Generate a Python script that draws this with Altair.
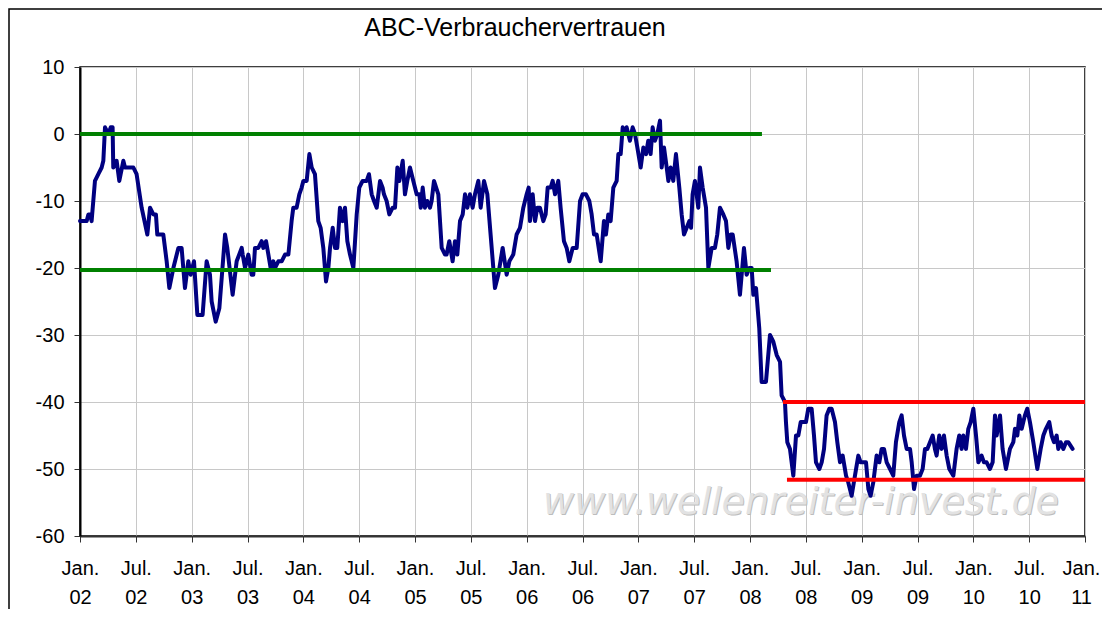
import altair as alt
import pandas as pd

title_text = "ABC-Verbrauchervertrauen"
watermark_text = "www.wellenreiter-invest.de"

# decimal year of each vertex of the weekly series
years = [
    2002.000, 2002.060, 2002.075, 2002.090, 2002.104, 2002.134, 2002.164, 2002.194, 2002.209, 2002.224,
    2002.254, 2002.275, 2002.292, 2002.298, 2002.328, 2002.352, 2002.388, 2002.403, 2002.478, 2002.507,
    2002.552, 2002.603, 2002.627, 2002.657, 2002.680, 2002.692, 2002.746, 2002.776, 2002.800, 2002.836,
    2002.881, 2002.910, 2002.940, 2002.970, 2002.991, 2003.021, 2003.051, 2003.098, 2003.134, 2003.164,
    2003.179, 2003.215, 2003.248, 2003.299, 2003.319, 2003.367, 2003.403, 2003.448,
    2003.457, 2003.478, 2003.507, 2003.537, 2003.552, 2003.567, 2003.597, 2003.627, 2003.642, 2003.666,
    2003.687, 2003.707, 2003.731, 2003.746, 2003.776, 2003.806, 2003.836, 2003.866, 2003.895, 2003.910,
    2003.940, 2003.964, 2003.985, 2004.000, 2004.030, 2004.054, 2004.075, 2004.104, 2004.134, 2004.155,
    2004.179, 2004.203, 2004.224, 2004.239, 2004.263, 2004.284, 2004.304, 2004.328, 2004.352, 2004.373,
    2004.394, 2004.418, 2004.448, 2004.478, 2004.501, 2004.531, 2004.567, 2004.588, 2004.612, 2004.633,
    2004.657, 2004.687, 2004.710, 2004.722, 2004.746, 2004.770, 2004.800, 2004.821, 2004.842, 2004.860,
    2004.890, 2004.910, 2004.931, 2004.955,
    2004.985, 2005.015, 2005.039, 2005.051, 2005.069, 2005.089, 2005.110, 2005.134, 2005.149, 2005.170,
    2005.209, 2005.239, 2005.269, 2005.283, 2005.307, 2005.337, 2005.358, 2005.379, 2005.403, 2005.427,
    2005.448, 2005.469, 2005.492, 2005.516, 2005.537, 2005.567, 2005.588, 2005.618, 2005.648, 2005.677,
    2005.716, 2005.746, 2005.785, 2005.821, 2005.845, 2005.880, 2005.910, 2005.940, 2005.970, 2006.000,
    2006.018, 2006.030, 2006.054, 2006.075, 2006.095, 2006.119, 2006.149, 2006.170, 2006.188, 2006.215,
    2006.233, 2006.254, 2006.283, 2006.304, 2006.334, 2006.358, 2006.382, 2006.412, 2006.448, 2006.478,
    2006.501, 2006.531,
    2006.561, 2006.582, 2006.603, 2006.627, 2006.663, 2006.692, 2006.710, 2006.731, 2006.752, 2006.776,
    2006.806, 2006.821, 2006.842, 2006.860, 2006.880, 2006.895, 2006.925, 2006.949, 2006.970, 2006.991,
    2007.021, 2007.045, 2007.069, 2007.089, 2007.110, 2007.128, 2007.149, 2007.170, 2007.194, 2007.209,
    2007.230, 2007.254, 2007.269, 2007.289, 2007.313, 2007.337, 2007.367, 2007.388, 2007.409, 2007.433,
    2007.457, 2007.472, 2007.486, 2007.507, 2007.537, 2007.552, 2007.576, 2007.606, 2007.627, 2007.657,
    2007.686, 2007.707, 2007.731, 2007.761, 2007.785, 2007.806, 2007.827, 2007.845, 2007.880, 2007.910,
    2007.946, 2007.970, 2007.994, 2008.015,
    2008.030, 2008.054, 2008.083, 2008.104, 2008.143, 2008.179, 2008.209, 2008.239, 2008.269, 2008.283,
    2008.313,
    2008.322, 2008.334, 2008.358, 2008.388, 2008.412, 2008.433, 2008.454, 2008.478, 2008.501, 2008.522,
    2008.552, 2008.573, 2008.591, 2008.621, 2008.642, 2008.663, 2008.686, 2008.710, 2008.731, 2008.761,
    2008.782, 2008.806, 2008.830, 2008.860, 2008.880, 2008.910, 2008.940, 2008.970, 2008.991, 2009.039,
    2009.060, 2009.080, 2009.104, 2009.134, 2009.158, 2009.179, 2009.200, 2009.224, 2009.254, 2009.283,
    2009.307, 2009.337, 2009.358, 2009.379, 2009.403, 2009.433, 2009.448, 2009.469, 2009.492, 2009.522,
    2009.546, 2009.567, 2009.588, 2009.612,
    2009.636, 2009.656, 2009.671, 2009.695, 2009.716, 2009.737, 2009.761, 2009.785, 2009.821, 2009.850,
    2009.874, 2009.895, 2009.910, 2009.934, 2009.955, 2009.976, 2010.000, 2010.024, 2010.045, 2010.074,
    2010.095, 2010.119, 2010.149, 2010.173, 2010.194, 2010.209, 2010.239, 2010.262, 2010.292, 2010.328,
    2010.358, 2010.373, 2010.394, 2010.412, 2010.433, 2010.462, 2010.483, 2010.507, 2010.537, 2010.573,
    2010.603, 2010.627, 2010.650, 2010.680, 2010.701, 2010.722, 2010.746, 2010.761, 2010.782, 2010.806,
    2010.830, 2010.850, 2010.889,
]

values = [
    -13, -13, -12, -12, -13, -7, -6, -5, -4, 1,
    0, 1, 1, -5, -4, -7, -4, -5, -5, -6,
    -11, -15, -11, -12, -12, -15, -15, -19, -23, -20,
    -17, -17, -23, -19, -21, -19, -27, -27, -19, -21,
    -25, -28, -26, -15, -17, -24, -19, -17,
    -18, -20, -18, -21, -21, -17, -17, -16, -17, -16,
    -18, -20, -19, -20, -19, -19, -18, -18, -13, -11,
    -11, -9, -8, -7, -7, -3, -5, -6, -13, -14,
    -17, -22, -20, -17, -14, -17, -17, -11, -13, -11,
    -16, -18, -20, -12, -8, -7, -7, -6, -9, -10,
    -11, -7, -8, -9, -10, -12, -11, -11, -5, -7,
    -4, -9, -7, -5,
    -7, -9, -9, -11, -8, -11, -10, -11, -10, -7,
    -9, -17, -18, -18, -16, -19, -16, -18, -13, -12,
    -9, -11, -9, -11, -9, -7, -11, -7, -9, -15,
    -23, -21, -17, -21, -19, -18, -15, -14, -11, -9,
    -8, -13, -9, -13, -11, -11, -13, -12, -8, -8,
    -7, -9, -7, -11, -16, -17, -19, -17, -17, -10,
    -9, -9,
    -10, -12, -15, -15, -19, -13, -15, -12, -13, -8,
    -7, -3, -3, 1, 0, 1, -1, 1, 0, -2,
    -5, -2, -3, -1, -3, 1, -1, 0, 2, -5,
    -2, -5, -7, -5, -7, -3, -8, -12, -15, -14,
    -13, -14, -9, -7, -11, -5, -8, -11, -20, -17,
    -17, -15, -11, -12, -13, -17, -15, -15, -19, -24,
    -17, -21, -20, -20,
    -24, -23, -29, -37, -37, -30, -31, -33, -34, -39,
    -40,
    -43, -46, -47, -51, -45, -45, -43, -43, -43, -41,
    -41, -45, -49, -50, -49, -47, -42, -41, -41, -43,
    -46, -49, -48, -51, -52, -54, -51, -48, -49, -49,
    -53, -54, -52, -48, -49, -47, -47, -49, -50, -51,
    -46, -43, -42, -45, -47, -47, -49, -53, -51, -51,
    -50, -47, -47, -46,
    -45, -47, -48, -45, -47, -45, -48, -50, -51, -47,
    -45, -47, -45, -47, -44, -43, -41, -45, -49, -48,
    -49, -49, -50, -49, -42, -45, -42, -47, -50, -47,
    -46, -44, -45, -42, -44, -42, -41, -43, -46, -50,
    -47, -45, -44, -43, -45, -46, -45, -47, -46, -47,
    -46, -46, -47,
]

# horizontal range markers drawn on the chart
level_start = [2002.0, 2002.0, 2008.295, 2008.331]
level_end = [2008.107, 2008.188, 2011.0, 2011.0]
level_value = [0, -20.3, -40, -51.6]
level_color = ["#008000", "#008000", "#ff0000", "#ff0000"]

x_ticks = [2002 + 0.5 * i for i in range(19)]
y_ticks = [-60, -50, -40, -30, -20, -10, 0, 10]

FONT = "Liberation Sans"
W, H = 1005, 469

series = pd.DataFrame({"year": years, "value": values})
levels = pd.DataFrame({"x0": level_start, "x1": level_end, "y": level_value, "c": level_color})

xscale = alt.Scale(domain=[2002, 2011], nice=False, zero=False)
yscale = alt.Scale(domain=[-60, 10], nice=False, zero=False)

x_axis = alt.Axis(
    values=x_ticks,
    labelExpr="[(datum.value % 1 == 0) ? 'Jan.' : 'Jul.', pad(toString(floor(datum.value) % 100), 2, '0', 'left')]",
    title=None, grid=True, gridColor="#c8c8c8", gridWidth=1,
    tickColor="#333333", tickSize=6, tickWidth=1,
    domainColor="#333333", domainWidth=2,
    labelFont=FONT, labelFontSize=20, labelColor="black",
    labelPadding=16, labelLineHeight=29, labelBaseline="top", labelAlign="center",
    labelOffset={"condition": {"test": "datum.value >= 2011", "value": -4}, "value": 0},
    labelOverlap=False, labelFlush=False,
)
y_axis = alt.Axis(
    values=y_ticks, title=None, grid=True, gridColor="#c8c8c8", gridWidth=1,
    labelExpr="'' + datum.value",
    tickColor="#333333", tickSize=6, tickWidth=1,
    domainColor="black", domainWidth=2,
    labelFont=FONT, labelFontSize=20, labelColor="black", labelPadding=10,
)

line = alt.Chart(series).mark_line(
    color="#000080", strokeWidth=4, strokeJoin="round", strokeCap="round"
).encode(
    x=alt.X("year:Q", scale=xscale, axis=x_axis),
    y=alt.Y("value:Q", scale=yscale, axis=y_axis),
    order="year:Q",
)

rules = alt.Chart(levels).mark_rule(strokeWidth=4).encode(
    x=alt.X("x0:Q", scale=xscale),
    x2="x1:Q",
    y=alt.Y("y:Q", scale=yscale),
    color=alt.Color("c:N", scale=None),
)

wm_df = pd.DataFrame({"t": [watermark_text]})
wm_shadow = alt.Chart(wm_df).mark_text(
    font="DejaVu Sans", fontStyle="italic", fontSize=38, color="#bdbdbd",
    align="center", baseline="alphabetic",
).encode(text="t:N", x=alt.value(722), y=alt.value(448))
wm = alt.Chart(wm_df).mark_text(
    font="DejaVu Sans", fontStyle="italic", fontSize=38, color="#e2e2e2",
    align="center", baseline="alphabetic",
).encode(text="t:N", x=alt.value(721), y=alt.value(447))

title = alt.Chart(pd.DataFrame({"t": [title_text]})).mark_text(
    font=FONT, fontSize=25, color="black", align="center", baseline="alphabetic",
).encode(text="t:N", x=alt.value(435), y=alt.value(-31))

frame = alt.Chart(pd.DataFrame({"k": [0]})).mark_rect(
    fillOpacity=0, stroke="black", strokeWidth=1.5
).encode(x=alt.value(-71), x2=alt.value(1300), y=alt.value(-58), y2=alt.value(800))

chart = alt.layer(frame, wm_shadow, wm, line, rules, title).properties(
    width=W, height=H,
    autosize=alt.AutoSizeParams(type="none"),
    padding={"left": 72, "top": 59, "right": 17, "bottom": 73},
    background="white",
).configure_view(stroke="black", strokeWidth=1.5)

chart.save("out.html", embed_options={"renderer": "svg", "actions": False})
